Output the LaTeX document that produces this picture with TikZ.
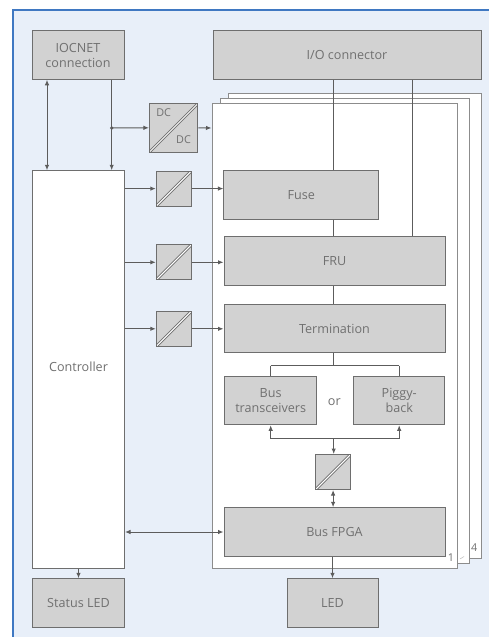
\documentclass[tikz,border=0pt]{standalone}
\usepackage{fontspec}
\setmainfont{Open Sans}
\usetikzlibrary{arrows.meta}
\definecolor{panelblue}{HTML}{E8EFF9}
\definecolor{frameblue}{HTML}{3F78C2}
\definecolor{boxgrey}{HTML}{D2D2D2}
\definecolor{edgegrey}{HTML}{6E6E6E}
\definecolor{sheetgrey}{HTML}{8C8C8C}
\definecolor{textgrey}{HTML}{707070}
\definecolor{wiregrey}{HTML}{5C5C5C}

\begin{document}
\begin{tikzpicture}[
    x=1pt,y=-1pt,font=\fontsize{12.6}{15}\selectfont,text=textgrey,
    block/.style={draw=edgegrey,fill=boxgrey,line width=1pt,inner sep=0pt,
        align=center,minimum height=48.5pt},
    sheet/.style={draw=sheetgrey,fill=white,line width=1pt},
    conv/.style={block,minimum width=35pt,minimum height=35pt,
        path picture={
            \draw[edgegrey,line width=2.8pt] (path picture bounding box.south west)
                -- (path picture bounding box.north east);
            \draw[white,line width=1pt] (path picture bounding box.south west)
                -- (path picture bounding box.north east);
        }},
    small label/.style={font=\fontsize{10.8}{13}\selectfont},
    wire/.style={draw=wiregrey,line width=1pt},
    flow/.style={wire,-{Latex[length=5.5pt,width=4.5pt]}},
    both/.style={wire,{Latex[length=5.5pt,width=4.5pt]}-{Latex[length=5.5pt,width=4.5pt]}}
]
    \useasboundingbox (0,0) rectangle (489,637);
    % Panel: only its left and top edges are lined.
    \fill[panelblue] (13,10) rectangle (489,637);
    \draw[frameblue,line width=1.6pt] (13,637) -- (13,10) -- (489,10);

    % Stacked sheets, back one first.
    \foreach \xa/\ya/\xb/\yb in {228/93.5/481/558,220/98.8/469/563,212/103.8/457/568}
        \draw[sheet] (\xa,\ya) rectangle (\xb,\yb);
    \draw[sheetgrey!60,line width=.5pt] (460,559) -- (464,556.5);
    \node[small label] (sheetfour) at (474.2,547.7) {4};
    \node[small label] (sheetone) at (451,558) {1};

    % Blocks outside the sheets.
    \node[block,minimum width=92pt] (iocnet) at (78,55) {IOCNET\\connection};
    \node[block,minimum width=268pt] (ioconn) at (347,55) {I/O connector};
    \node[block,fill=white,minimum width=92pt,minimum height=397.5pt] (controller) at (78.5,369.5) {\raisebox{6pt}{Controller}};
    \node[block,minimum width=92pt] (statusled) at (78.5,603) {Status LED};
    \node[block,minimum width=91pt] (led) at (332.5,603) {LED};

    % Blocks on the front sheet.
    \node[block,minimum width=154.5pt] (fuse) at (301.2,195) {Fuse};
    \node[block,minimum width=221pt] (fru) at (334.5,261) {FRU};
    \node[block,minimum width=221pt] (termination) at (334.5,328.5) {Termination};
    \node[block,minimum width=91.5pt] (transceivers) at (270.7,400.5) {Bus\\transceivers};
    \node[block,minimum width=91.5pt] (piggyback) at (399.2,400.5) {Piggy-\\back};
    \node (alt) at (334.3,402) {or};
    \node[block,minimum width=221pt] (fpga) at (334.5,532) {Bus FPGA};

    % Converters.
    \node[conv,minimum width=48.5pt,minimum height=48.5pt] (dcdc) at (173.7,127.8) {};
    \node[small label] (dcin) at (163.7,113) {DC};
    \node[small label] (dcout) at (183.5,140) {DC};
    \foreach \name/\level in {convfuse/188.6,convfru/262.3,convterm/328.8}
        \node[conv] (\name) at (173.8,\level) {};
    \node[conv] (convbus) at (333.1,472) {};

    % Named points that the wires run through.
    \coordinate (tap) at (111.7,128);
    \coordinate (iocbus) at (47,128);
    \coordinate (fuseline) at (333.7,188);
    \coordinate (fruline) at (412.3,261);
    \coordinate (forktop) at (333.7,365.7);
    \coordinate (forkbottom) at (333.7,438.7);
    \coordinate (sheetin) at (211.5,128);

    % IOCNET side.
    \draw[both] (iocnet.south -| iocbus) -- (controller.north -| iocbus);
    \draw[flow] (iocnet.south -| tap) -- (controller.north -| tap);
    \fill[wiregrey] (tap) circle (1.9pt);
    \draw[flow] (tap) -- (dcdc.west);
    \draw[flow] (dcdc.east) -- (sheetin);

    % Controller through the converters.
    \foreach \name/\target in {convfuse/fuse,convfru/fru,convterm/termination} {
        \draw[flow] (controller.east |- \name.west) -- (\name.west);
        \draw[flow] (\name.east) -- (\target.west |- \name.east);
    }
    \draw[both] (controller.east |- fpga.west) -- (fpga.west);
    \draw[flow] (controller.south) -- (statusled.north);

    % I/O connector down the sheet.
    \draw[wire] (ioconn.south -| fuseline) -- (fuse.north -| fuseline);
    \draw[wire] (ioconn.south -| fruline) -- (fru.north -| fruline);
    \draw[wire] (fuse.south -| fuseline) -- (fru.north -| fuseline);
    \draw[wire] (fru.south -| fuseline) -- (termination.north -| fuseline);

    % Fork to either bus part.
    \draw[wire] (termination.south -| forktop) -- (forktop);
    \draw[wire] (transceivers.north |- forktop) -- (piggyback.north |- forktop);
    \draw[wire] (transceivers.north |- forktop) -- (transceivers.north);
    \draw[wire] (piggyback.north |- forktop) -- (piggyback.north);
    \draw[wire] (transceivers.south |- forkbottom) -- (piggyback.south |- forkbottom);
    \draw[flow] (transceivers.south |- forkbottom) -- (transceivers.south);
    \draw[flow] (piggyback.south |- forkbottom) -- (piggyback.south);
    \draw[flow] (forkbottom) -- (convbus.north -| forkbottom);
    \draw[both] (convbus.south) -- (fpga.north -| convbus.south);
    \draw[flow] (fpga.south -| led) -- (led.north);
\end{tikzpicture}
\end{document}
